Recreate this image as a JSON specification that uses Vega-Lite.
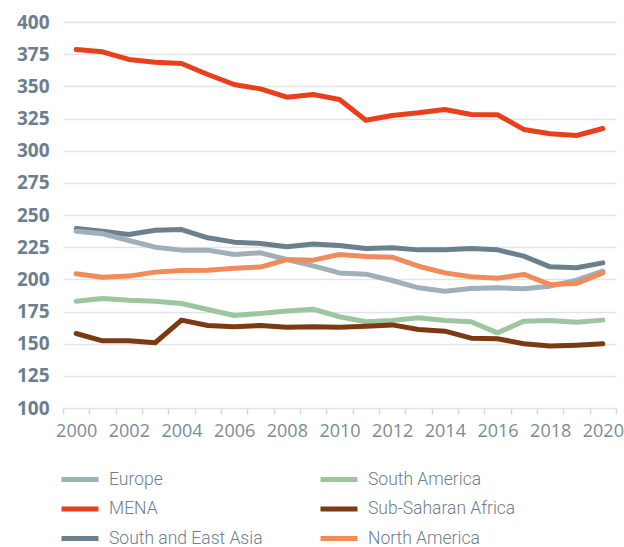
{
  "$schema": "https://vega.github.io/schema/vega-lite/v6.json",
  "autosize": "none",
  "width": 553,
  "height": 386,
  "padding": {"left": 63, "top": 22, "right": 8, "bottom": 139},
  "background": "white",
  "config": {"view": {"stroke": null}, "font": "Open Sans"},
  "datasets": {
    "emissions": [
      {"region": "MENA", "year": 2000, "value": 378.6},
      {"region": "MENA", "year": 2001, "value": 376.8},
      {"region": "MENA", "year": 2002, "value": 370.9},
      {"region": "MENA", "year": 2003, "value": 368.8},
      {"region": "MENA", "year": 2004, "value": 367.7},
      {"region": "MENA", "year": 2005, "value": 359.2},
      {"region": "MENA", "year": 2006, "value": 351.4},
      {"region": "MENA", "year": 2007, "value": 348.0},
      {"region": "MENA", "year": 2008, "value": 341.6},
      {"region": "MENA", "year": 2009, "value": 343.6},
      {"region": "MENA", "year": 2010, "value": 339.8},
      {"region": "MENA", "year": 2011, "value": 323.7},
      {"region": "MENA", "year": 2012, "value": 327.3},
      {"region": "MENA", "year": 2013, "value": 329.4},
      {"region": "MENA", "year": 2014, "value": 332.0},
      {"region": "MENA", "year": 2015, "value": 328.1},
      {"region": "MENA", "year": 2016, "value": 327.9},
      {"region": "MENA", "year": 2017, "value": 316.5},
      {"region": "MENA", "year": 2018, "value": 313.1},
      {"region": "MENA", "year": 2019, "value": 311.8},
      {"region": "MENA", "year": 2020, "value": 317.2},
      {"region": "South and East Asia", "year": 2000, "value": 239.5},
      {"region": "South and East Asia", "year": 2001, "value": 237.4},
      {"region": "South and East Asia", "year": 2002, "value": 234.9},
      {"region": "South and East Asia", "year": 2003, "value": 238.2},
      {"region": "South and East Asia", "year": 2004, "value": 238.7},
      {"region": "South and East Asia", "year": 2005, "value": 232.3},
      {"region": "South and East Asia", "year": 2006, "value": 228.9},
      {"region": "South and East Asia", "year": 2007, "value": 227.9},
      {"region": "South and East Asia", "year": 2008, "value": 225.3},
      {"region": "South and East Asia", "year": 2009, "value": 227.5},
      {"region": "South and East Asia", "year": 2010, "value": 226.3},
      {"region": "South and East Asia", "year": 2011, "value": 224.0},
      {"region": "South and East Asia", "year": 2012, "value": 224.5},
      {"region": "South and East Asia", "year": 2013, "value": 222.9},
      {"region": "South and East Asia", "year": 2014, "value": 222.9},
      {"region": "South and East Asia", "year": 2015, "value": 224.0},
      {"region": "South and East Asia", "year": 2016, "value": 222.9},
      {"region": "South and East Asia", "year": 2017, "value": 218.0},
      {"region": "South and East Asia", "year": 2018, "value": 209.7},
      {"region": "South and East Asia", "year": 2019, "value": 209.0},
      {"region": "South and East Asia", "year": 2020, "value": 212.8},
      {"region": "Europe", "year": 2000, "value": 237.4},
      {"region": "Europe", "year": 2001, "value": 235.4},
      {"region": "Europe", "year": 2002, "value": 230.2},
      {"region": "Europe", "year": 2003, "value": 225.0},
      {"region": "Europe", "year": 2004, "value": 222.7},
      {"region": "Europe", "year": 2005, "value": 222.7},
      {"region": "Europe", "year": 2006, "value": 219.3},
      {"region": "Europe", "year": 2007, "value": 220.6},
      {"region": "Europe", "year": 2008, "value": 215.4},
      {"region": "Europe", "year": 2009, "value": 210.5},
      {"region": "Europe", "year": 2010, "value": 205.0},
      {"region": "Europe", "year": 2011, "value": 204.0},
      {"region": "Europe", "year": 2012, "value": 199.1},
      {"region": "Europe", "year": 2013, "value": 193.4},
      {"region": "Europe", "year": 2014, "value": 190.8},
      {"region": "Europe", "year": 2015, "value": 192.9},
      {"region": "Europe", "year": 2016, "value": 193.4},
      {"region": "Europe", "year": 2017, "value": 192.6},
      {"region": "Europe", "year": 2018, "value": 194.7},
      {"region": "Europe", "year": 2019, "value": 199.4},
      {"region": "Europe", "year": 2020, "value": 206.4},
      {"region": "North America", "year": 2000, "value": 204.3},
      {"region": "North America", "year": 2001, "value": 201.7},
      {"region": "North America", "year": 2002, "value": 202.5},
      {"region": "North America", "year": 2003, "value": 205.6},
      {"region": "North America", "year": 2004, "value": 206.9},
      {"region": "North America", "year": 2005, "value": 207.1},
      {"region": "North America", "year": 2006, "value": 208.7},
      {"region": "North America", "year": 2007, "value": 209.5},
      {"region": "North America", "year": 2008, "value": 215.4},
      {"region": "North America", "year": 2009, "value": 214.9},
      {"region": "North America", "year": 2010, "value": 219.3},
      {"region": "North America", "year": 2011, "value": 217.8},
      {"region": "North America", "year": 2012, "value": 217.2},
      {"region": "North America", "year": 2013, "value": 210.2},
      {"region": "North America", "year": 2014, "value": 205.0},
      {"region": "North America", "year": 2015, "value": 202.0},
      {"region": "North America", "year": 2016, "value": 200.9},
      {"region": "North America", "year": 2017, "value": 203.8},
      {"region": "North America", "year": 2018, "value": 196.0},
      {"region": "North America", "year": 2019, "value": 196.8},
      {"region": "North America", "year": 2020, "value": 205.0},
      {"region": "South America", "year": 2000, "value": 183.0},
      {"region": "South America", "year": 2001, "value": 185.1},
      {"region": "South America", "year": 2002, "value": 183.8},
      {"region": "South America", "year": 2003, "value": 183.0},
      {"region": "South America", "year": 2004, "value": 181.2},
      {"region": "South America", "year": 2005, "value": 176.6},
      {"region": "South America", "year": 2006, "value": 171.9},
      {"region": "South America", "year": 2007, "value": 173.5},
      {"region": "South America", "year": 2008, "value": 175.3},
      {"region": "South America", "year": 2009, "value": 176.8},
      {"region": "South America", "year": 2010, "value": 170.9},
      {"region": "South America", "year": 2011, "value": 167.0},
      {"region": "South America", "year": 2012, "value": 168.0},
      {"region": "South America", "year": 2013, "value": 170.1},
      {"region": "South America", "year": 2014, "value": 168.0},
      {"region": "South America", "year": 2015, "value": 167.0},
      {"region": "South America", "year": 2016, "value": 158.4},
      {"region": "South America", "year": 2017, "value": 167.5},
      {"region": "South America", "year": 2018, "value": 168.0},
      {"region": "South America", "year": 2019, "value": 166.7},
      {"region": "South America", "year": 2020, "value": 168.3},
      {"region": "Sub-Saharan Africa", "year": 2000, "value": 157.9},
      {"region": "Sub-Saharan Africa", "year": 2001, "value": 152.2},
      {"region": "Sub-Saharan Africa", "year": 2002, "value": 152.2},
      {"region": "Sub-Saharan Africa", "year": 2003, "value": 150.7},
      {"region": "Sub-Saharan Africa", "year": 2004, "value": 168.3},
      {"region": "Sub-Saharan Africa", "year": 2005, "value": 164.1},
      {"region": "Sub-Saharan Africa", "year": 2006, "value": 163.1},
      {"region": "Sub-Saharan Africa", "year": 2007, "value": 164.1},
      {"region": "Sub-Saharan Africa", "year": 2008, "value": 162.8},
      {"region": "Sub-Saharan Africa", "year": 2009, "value": 163.1},
      {"region": "Sub-Saharan Africa", "year": 2010, "value": 162.8},
      {"region": "Sub-Saharan Africa", "year": 2011, "value": 163.6},
      {"region": "Sub-Saharan Africa", "year": 2012, "value": 164.6},
      {"region": "Sub-Saharan Africa", "year": 2013, "value": 161.0},
      {"region": "Sub-Saharan Africa", "year": 2014, "value": 159.7},
      {"region": "Sub-Saharan Africa", "year": 2015, "value": 154.3},
      {"region": "Sub-Saharan Africa", "year": 2016, "value": 153.8},
      {"region": "Sub-Saharan Africa", "year": 2017, "value": 149.9},
      {"region": "Sub-Saharan Africa", "year": 2018, "value": 148.1},
      {"region": "Sub-Saharan Africa", "year": 2019, "value": 148.8},
      {"region": "Sub-Saharan Africa", "year": 2020, "value": 149.9}
    ]
  },
  "data": {"name": "emissions"},
  "mark": {"type": "line", "strokeWidth": 5, "strokeCap": "round", "strokeJoin": "round"},
  "encoding": {
    "x": {
      "field": "year",
      "type": "ordinal",
      "scale": {"type": "band", "paddingInner": 0, "paddingOuter": 0},
      "axis": {
        "title": null,
        "tickBand": "extent",
        "domain": false,
        "grid": false,
        "ticks": true,
        "tickColor": "#d3dade",
        "tickWidth": 1.5,
        "tickSize": 6,
        "labelAngle": 0,
        "labelExpr": "datum.value % 2 == 0 ? datum.label : ''",
        "labelFontSize": 18,
        "labelColor": "#7a8b96",
        "labelPadding": 8,
        "labelOverlap": false
      }
    },
    "y": {
      "field": "value",
      "type": "quantitative",
      "scale": {"domain": [100, 400], "nice": false, "zero": false},
      "axis": {
        "title": null,
        "values": [100, 125, 150, 175, 200, 225, 250, 275, 300, 325, 350, 375, 400],
        "domain": false,
        "ticks": false,
        "grid": true,
        "gridColor": "#e0e5e9",
        "gridWidth": 1.5,
        "labelFontSize": 19,
        "labelFontWeight": 700,
        "labelColor": "#6b7f8c",
        "labelPadding": 14
      }
    },
    "color": {
      "field": "region",
      "type": "nominal",
      "scale": {
        "domain": ["Europe", "MENA", "South and East Asia", "South America", "Sub-Saharan Africa", "North America"],
        "range": ["#9fb0b9", "#e8401c", "#6b7f8c", "#9dc59f", "#7b3a12", "#f08c5c"]
      },
      "legend": {
        "title": null,
        "orient": "none",
        "legendX": -4,
        "legendY": 443,
        "columns": 2,
        "symbolType": "stroke",
        "symbolSize": 1369,
        "symbolStrokeWidth": 5,
        "labelFont": "Roboto",
        "labelFontWeight": 300,
        "labelFontSize": 17.5,
        "labelColor": "#6e808c",
        "labelOffset": 8,
        "columnPadding": 55,
        "clipHeight": 29,
        "rowPadding": 0.5
      }
    }
  }
}
